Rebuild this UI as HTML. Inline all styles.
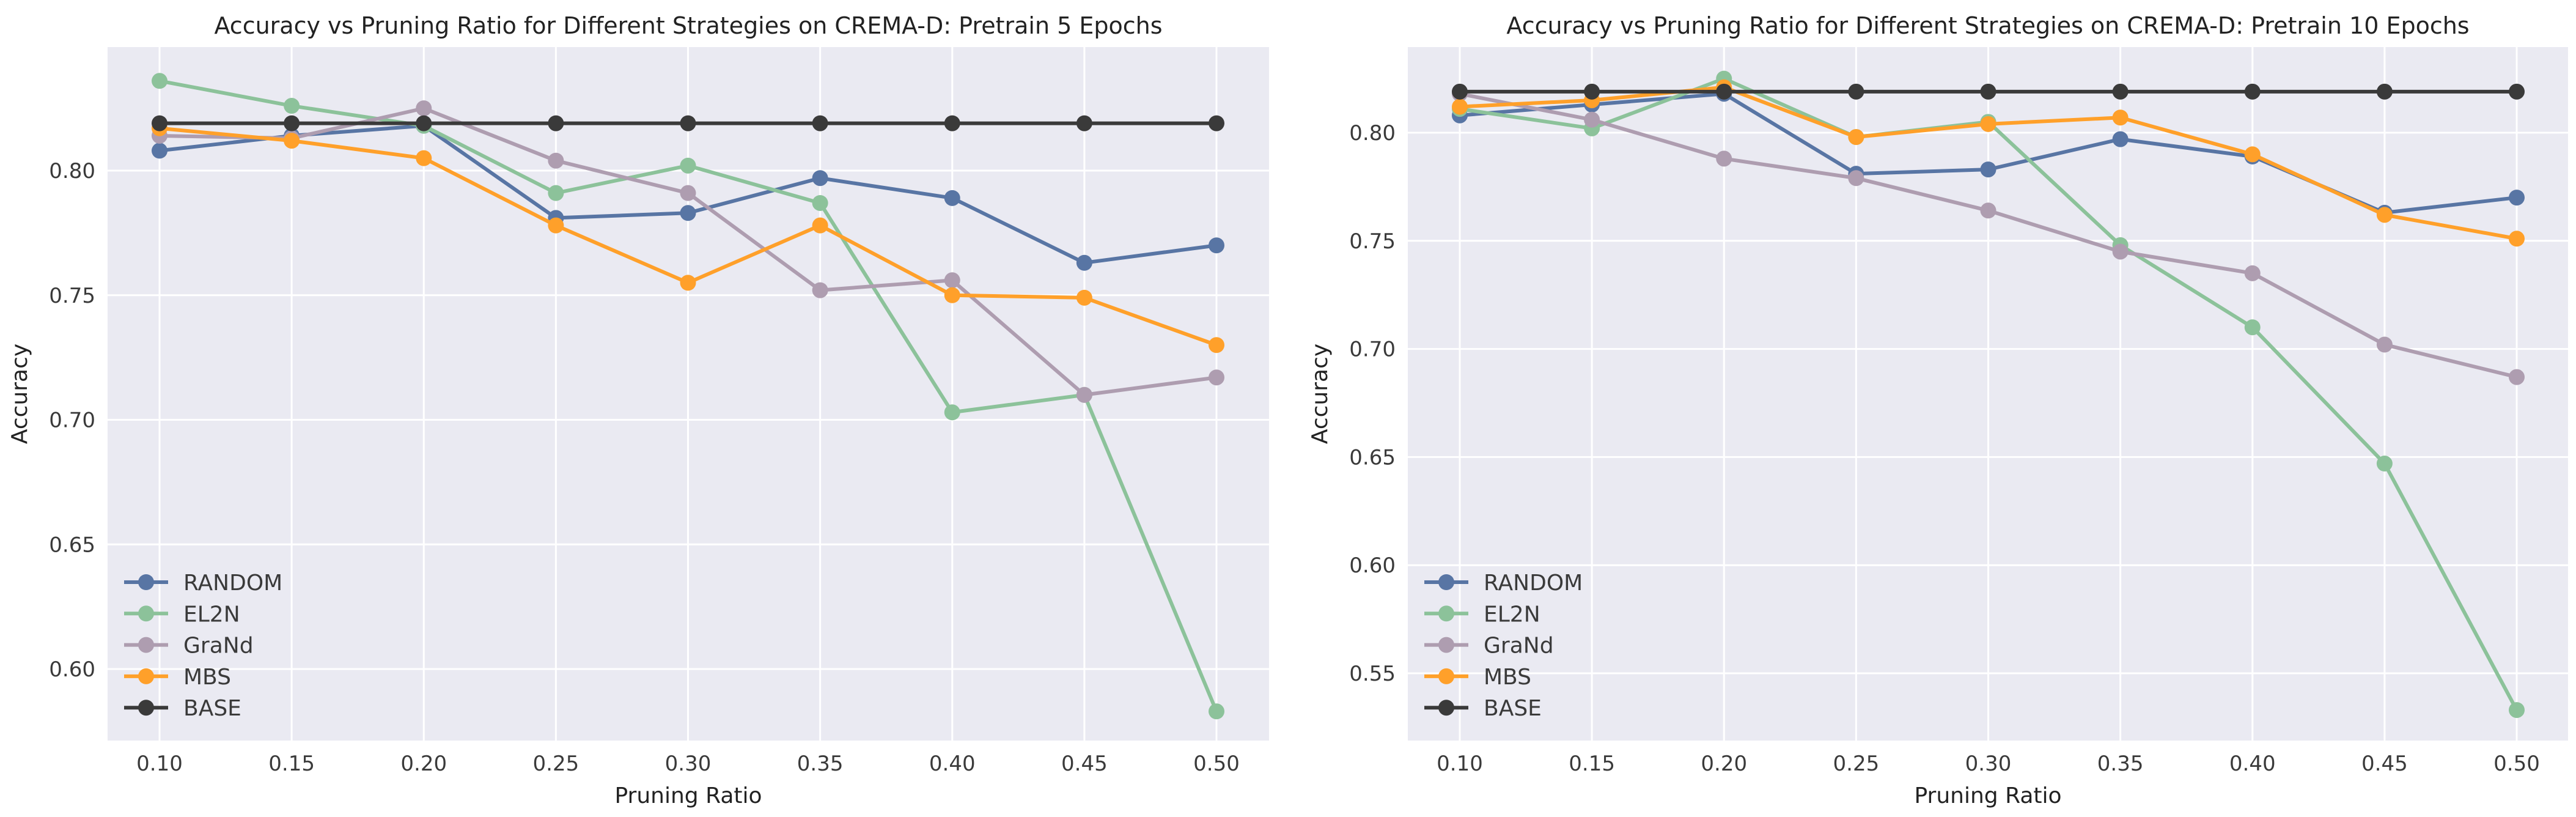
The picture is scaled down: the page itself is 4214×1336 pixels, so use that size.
<!DOCTYPE html>
<html><head><meta charset="utf-8"><style>
body{margin:0;background:#fff}
svg{display:block;font-family:"DejaVu Sans","Liberation Sans",sans-serif}
</style></head><body>
<svg id="s" width="4214" height="1336" viewBox="0 0 4214 1336" xmlns="http://www.w3.org/2000/svg"></svg>
<script>
const ratios=[0.10,0.15,0.20,0.25,0.30,0.35,0.40,0.45,0.50];
const xTickLabels=["0.10","0.15","0.20","0.25","0.30","0.35","0.40","0.45","0.50"];
const seriesNames=["RANDOM","EL2N","GraNd","MBS","BASE"];
const colors=["#5875a4","#8cc29a","#ae9db0","#ffa02a","#3a3a3a"];
const leftRandom=[0.808,0.814,0.818,0.781,0.783,0.797,0.789,0.763,0.770];
const leftEL2N=[0.836,0.826,0.818,0.791,0.802,0.787,0.703,0.710,0.583];
const leftGraNd=[0.814,0.813,0.825,0.804,0.791,0.752,0.756,0.710,0.717];
const leftMBS=[0.817,0.812,0.805,0.778,0.755,0.778,0.750,0.749,0.730];
const leftBase=[0.819,0.819,0.819,0.819,0.819,0.819,0.819,0.819,0.819];
const rightRandom=[0.808,0.813,0.818,0.781,0.783,0.797,0.789,0.763,0.770];
const rightEL2N=[0.811,0.802,0.825,0.798,0.805,0.748,0.710,0.647,0.533];
const rightGraNd=[0.818,0.806,0.788,0.779,0.764,0.745,0.735,0.702,0.687];
const rightMBS=[0.812,0.815,0.821,0.798,0.804,0.807,0.790,0.762,0.751];
const rightBase=[0.819,0.819,0.819,0.819,0.819,0.819,0.819,0.819,0.819];
const leftYTicks=[0.60,0.65,0.70,0.75,0.80];
const rightYTicks=[0.55,0.60,0.65,0.70,0.75,0.80];
const leftTitle="Accuracy vs Pruning Ratio for Different Strategies on CREMA-D: Pretrain 5 Epochs";
const rightTitle="Accuracy vs Pruning Ratio for Different Strategies on CREMA-D: Pretrain 10 Epochs";

const NS="http://www.w3.org/2000/svg";
const svg=document.getElementById('s');
function mk(tag,attrs,parent){const e=document.createElementNS(NS,tag);for(const k in attrs)e.setAttribute(k,attrs[k]);(parent||svg).appendChild(e);return e;}

function chart(cfg){
  const g=mk('g',{});
  
  
  const X=v=>cfg.x0+(v-0.10)/(0.40)*(cfg.x1-cfg.x0);
  const Y=v=>cfg.yA+(cfg.vA-v)/(cfg.vA-cfg.vB)*(cfg.yB-cfg.yA);
  const bg=mk('rect',{x:cfg.L,y:77,width:cfg.R-cfg.L,height:1134,fill:'#eaeaf2'},g);
  
  
  ratios.forEach((r,i)=>{
    const gl=mk('line',{x1:X(r),x2:X(r),y1:77,y2:1211,stroke:'#fff','stroke-width':3},g);
    
    
    const t=mk('text',{x:X(r),y:1260,'text-anchor':'middle','font-size':34,fill:'#3a3a3a'},g);
    t.textContent=xTickLabels[i];
    
    
  });
  cfg.yt.forEach(v=>{
    const gl=mk('line',{x1:cfg.L,x2:cfg.R,y1:Y(v),y2:Y(v),stroke:'#fff','stroke-width':3},g);
    
    
    const t=mk('text',{x:cfg.L-20,y:Y(v)+12,'text-anchor':'end','font-size':34,fill:'#3a3a3a'},g);
    t.textContent=v.toFixed(2);
    
    
  });
  cfg.series.forEach((vals,si)=>{
    const sg=mk('g',{},g);
    
    
    const pts=vals.map((v,i)=>X(ratios[i])+','+Y(v)).join(' ');
    const pl=mk('polyline',{points:pts,fill:'none',stroke:colors[si],'stroke-width':6,'stroke-linejoin':'round'},sg);
    
    
    vals.forEach((v,i)=>{
      const c=mk('circle',{cx:X(ratios[i]),cy:Y(v),r:13,fill:colors[si]},sg);
      
      
    });
  });
  const lg=mk('g',{},g);
  
  
  seriesNames.forEach((n,i)=>{
    const y=952+i*51.3;
    const e=mk('g',{},lg);
    
    
    mk('line',{x1:cfg.L+27,x2:cfg.L+99,y1:y,y2:y,stroke:colors[i],'stroke-width':6},e);
    mk('circle',{cx:cfg.L+63,cy:y,r:13,fill:colors[i]},e);
    const t=mk('text',{x:cfg.L+124,y:y+13,'font-size':36,fill:'#3a3a3a'},e);
    t.textContent=n;
  });
  const tt=mk('text',{x:(cfg.L+cfg.R)/2,y:55,'text-anchor':'middle','font-size':38,fill:'#222'},g);
  tt.textContent=cfg.title;
  
  
  const xl=mk('text',{x:(cfg.L+cfg.R)/2,y:1313,'text-anchor':'middle','font-size':36,fill:'#222'},g);
  xl.textContent='Pruning Ratio';
  
  
  const yl=mk('text',{x:0,y:0,'text-anchor':'middle','font-size':36,fill:'#222',transform:`translate(${cfg.L-132},644) rotate(-90)`},g);
  yl.textContent='Accuracy';
  
  
}
chart({name:'chart-pretrain-5',L:176,R:2076,x0:261,x1:1990,yA:279,vA:0.80,yB:1094,vB:0.60,yt:leftYTicks,title:leftTitle,
  series:[leftRandom,leftEL2N,leftGraNd,leftMBS,leftBase]});
chart({name:'chart-pretrain-10',L:2303,R:4201,x0:2388,x1:4117,yA:217,vA:0.80,yB:1101,vB:0.55,yt:rightYTicks,title:rightTitle,
  series:[rightRandom,rightEL2N,rightGraNd,rightMBS,rightBase]});
</script>
</body></html>
